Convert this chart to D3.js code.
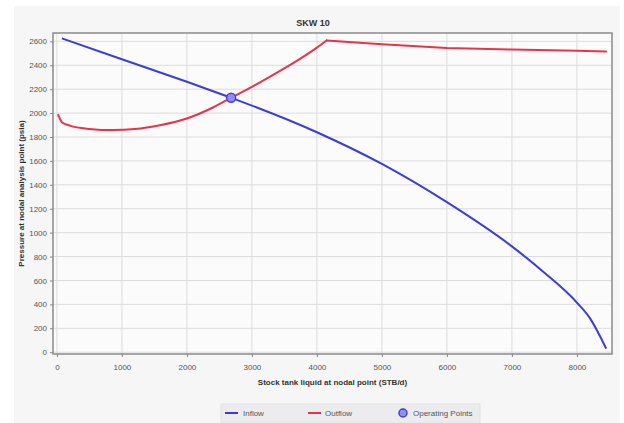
<!DOCTYPE html>
<html>
<head>
<meta charset="utf-8">
<script src="https://cdn.jsdelivr.net/npm/d3@7"></script>
<style>
  body { margin: 0; background: #ffffff; }
  text { font-family: "Liberation Sans", Arial, sans-serif; }
</style>
</head>
<body>
<div id="chart"></div>
<script>
// Chart data
var title = "SKW 10";
var xTitle = "Stock tank liquid at nodal point (STB/d)";
var yTitle = "Pressure at nodal analysis point (psia)";

var xTicks = [0, 1000, 2000, 3000, 4000, 5000, 6000, 7000, 8000];
var yTicks = [0, 200, 400, 600, 800, 1000, 1200, 1400, 1600, 1800, 2000, 2200, 2400, 2600];

var inflowRate = [77, 1000, 2000, 2680, 3000, 4000, 5000, 6000, 7000, 7500, 8000, 8200, 8350, 8450];
var inflowPres = [2625, 2450, 2262, 2128, 2063, 1840, 1575, 1255, 885, 665, 415, 285, 140, 30];

// outflow: smooth part up to the peak, then straight segments
var outflowRate = [20, 80, 200, 500, 860, 1200, 1600, 2000, 2400, 2680, 3000, 3300, 3640, 4000, 4150];
var outflowPres = [1985, 1922, 1895, 1868, 1858, 1866, 1900, 1955, 2047, 2128, 2220, 2312, 2420, 2548, 2608];
var outflowTailRate = [4150, 5000, 6000, 7000, 8000, 8450];
var outflowTailPres = [2608, 2575, 2545, 2532, 2522, 2516];

var opRate = [2680];
var opPres = [2128];

var legendNames = ["Inflow", "Outflow", "Operating Points"];

var svgWidth = 624;
var svgHeight = 423;

var plot = { left: 53, right: 612, top: 33, bottom: 354 };

var svg = d3.select("#chart").append("svg")
    .attr("width", svgWidth)
    .attr("height", svgHeight);

// light panel behind everything
svg.append("rect")
    .attr("x", 14).attr("y", 6)
    .attr("width", 606).attr("height", 417)
    .attr("fill", "#f6f6f7");

var x = d3.scaleLinear().domain([-60, 8540]).range([plot.left, plot.right]);
var y = d3.scaleLinear().domain([-15, 2670]).range([plot.bottom, plot.top]);

// plot area
svg.append("rect")
    .attr("x", plot.left).attr("y", plot.top)
    .attr("width", plot.right - plot.left)
    .attr("height", plot.bottom - plot.top)
    .attr("fill", "#fbfbfc");

// grid lines
svg.append("g").selectAll("line").data(xTicks).join("line")
    .attr("x1", d => x(d)).attr("x2", d => x(d))
    .attr("y1", plot.top).attr("y2", plot.bottom)
    .attr("stroke", "#dcdcdc").attr("stroke-width", 1);

svg.append("g").selectAll("line").data(yTicks).join("line")
    .attr("x1", plot.left).attr("x2", plot.right)
    .attr("y1", d => y(d)).attr("y2", d => y(d))
    .attr("stroke", "#dcdcdc").attr("stroke-width", 1);

// axes
var xAxis = svg.append("g")
    .attr("transform", `translate(0, ${plot.bottom})`)
    .call(d3.axisBottom(x).tickValues(xTicks).tickSize(3).tickFormat(d3.format("d")));

var yAxis = svg.append("g")
    .attr("transform", `translate(${plot.left}, 0)`)
    .call(d3.axisLeft(y).tickValues(yTicks).tickSize(3).tickFormat(d3.format("d")));

[xAxis, yAxis].forEach(function(a) {
    a.select(".domain").remove();
    a.selectAll(".tick line").attr("stroke", "#888");
    a.selectAll(".tick text")
        .attr("fill", "#555")
        .style("font-size", "8px");
});
xAxis.selectAll(".tick text").attr("dy", "1.2em");

// frame
svg.append("rect")
    .attr("x", plot.left).attr("y", plot.top)
    .attr("width", plot.right - plot.left)
    .attr("height", plot.bottom - plot.top)
    .attr("fill", "none")
    .attr("stroke", "#8a8a8a")
    .attr("stroke-width", 1.5);

// curves
var inflow = inflowRate.map((q, i) => [q, inflowPres[i]]);
var outflow = outflowRate.map((q, i) => [q, outflowPres[i]]);
var outflowTail = outflowTailRate.map((q, i) => [q, outflowTailPres[i]]);

var smoothLine = d3.line()
    .x(d => x(d[0])).y(d => y(d[1]))
    .curve(d3.curveMonotoneX);

var straightLine = d3.line()
    .x(d => x(d[0])).y(d => y(d[1]));

svg.append("path")
    .datum(inflow)
    .attr("d", smoothLine)
    .attr("fill", "none")
    .attr("stroke", "#3c3cdc")
    .attr("stroke-width", 2);

svg.append("path")
    .datum(outflow)
    .attr("d", smoothLine)
    .attr("fill", "none")
    .attr("stroke", "#e8334c")
    .attr("stroke-width", 2)
    .attr("stroke-linecap", "round");

svg.append("path")
    .datum(outflowTail)
    .attr("d", straightLine)
    .attr("fill", "none")
    .attr("stroke", "#e8334c")
    .attr("stroke-width", 2)
    .attr("stroke-linecap", "round")
    .attr("stroke-linejoin", "round");

// operating point
svg.append("g").selectAll("circle").data(opRate).join("circle")
    .attr("cx", d => x(d))
    .attr("cy", (d, i) => y(opPres[i]))
    .attr("r", 4.5)
    .attr("fill", "#8f8ff0")
    .attr("stroke", "#4040d8")
    .attr("stroke-width", 1.5);

// titles
svg.append("text")
    .attr("x", 313).attr("y", 26)
    .attr("text-anchor", "middle")
    .style("font-size", "9px")
    .style("font-weight", "bold")
    .attr("fill", "#333")
    .text(title);

svg.append("text")
    .attr("x", (plot.left + plot.right) / 2).attr("y", 385)
    .attr("text-anchor", "middle")
    .style("font-size", "8px")
    .style("font-weight", "bold")
    .attr("fill", "#333")
    .text(xTitle);

svg.append("text")
    .attr("transform", `translate(24, ${(plot.top + plot.bottom) / 2}) rotate(-90)`)
    .attr("text-anchor", "middle")
    .style("font-size", "8px")
    .style("font-weight", "bold")
    .attr("fill", "#333")
    .text(yTitle);

// legend
var legend = svg.append("g");
legend.append("rect")
    .attr("x", 221).attr("y", 404)
    .attr("width", 259).attr("height", 19)
    .attr("fill", "#ececee")
    .attr("stroke", "#e2e2e4");

legend.append("line")
    .attr("x1", 225).attr("x2", 238).attr("y1", 413).attr("y2", 413)
    .attr("stroke", "#3c3cdc").attr("stroke-width", 2);
legend.append("text")
    .attr("x", 243).attr("y", 416)
    .style("font-size", "8px").attr("fill", "#555")
    .text(legendNames[0]);

legend.append("line")
    .attr("x1", 308).attr("x2", 321).attr("y1", 413).attr("y2", 413)
    .attr("stroke", "#e8334c").attr("stroke-width", 2);
legend.append("text")
    .attr("x", 325).attr("y", 416)
    .style("font-size", "8px").attr("fill", "#555")
    .text(legendNames[1]);

legend.append("circle")
    .attr("cx", 403).attr("cy", 413).attr("r", 4)
    .attr("fill", "#8f8ff0")
    .attr("stroke", "#4040d8").attr("stroke-width", 1.5);
legend.append("text")
    .attr("x", 413).attr("y", 416)
    .style("font-size", "8px").attr("fill", "#555")
    .text(legendNames[2]);
</script>
</body>
</html>
